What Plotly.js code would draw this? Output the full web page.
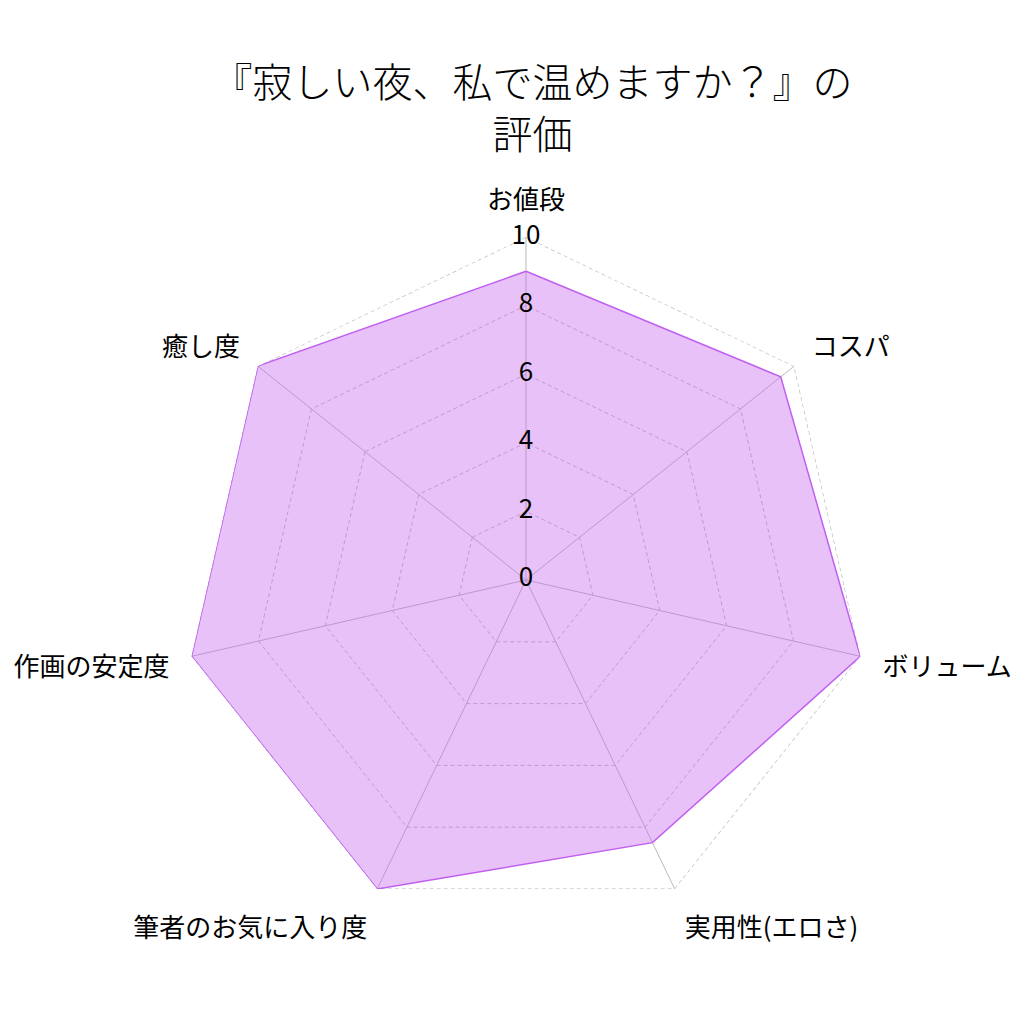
<!DOCTYPE html>
<html>
<head>
<meta charset="utf-8">
<script src="https://cdn.plot.ly/plotly-3.0.1.min.js"></script>
<style>html,body{margin:0;padding:0;background:#fff;}</style>
</head>
<body>
<div id="chart" style="width:1024px;height:1024px;"></div>
<script>
const categories = ["お値段", "コスパ", "ボリューム", "実用性(エロさ)", "筆者のお気に入り度", "作画の安定度", "癒し度"];
const scores = [9, 9.5, 10, 8.5, 10, 10, 10];
const tickValues = [0, 2, 4, 6, 8, 10];
const tickLabels = ["0", "2", "4", "6", "8", "10"];
const rangeMax = 10;
const chartTitle = "『寂しい夜、私で温めますか？』の<br>評価";

const font = "Noto Sans CJK JP, Noto Sans, sans-serif";
const gridDash = "4px,3px";
const gridColor = "#bdbdbd";

const data = [
  {
    type: "scatterpolar",
    subplot: "polar",
    r: categories.map(() => rangeMax).concat([rangeMax]),
    theta: categories.concat([categories[0]]),
    mode: "lines",
    line: {color: "#b4b4b4", width: 1.2, dash: gridDash},
    hoverinfo: "skip",
    showlegend: false
  },
  {
    type: "scatterpolar",
    subplot: "polar",
    r: scores.concat([scores[0]]),
    theta: categories.concat([categories[0]]),
    mode: "lines",
    fill: "toself",
    fillcolor: "rgba(200,100,240,0.4)",
    line: {color: "#c060f0", width: 1.5},
    hoverinfo: "skip",
    showlegend: false
  },
  {
    type: "scatterpolar",
    subplot: "polar2",
    r: tickValues,
    theta: tickValues.map(() => categories[0]),
    mode: "text",
    text: tickLabels,
    textposition: "middle center",
    textfont: {family: font, size: 26, color: "#000"},
    cliponaxis: false,
    hoverinfo: "skip",
    showlegend: false
  }
];

const domain = {x: [0.1787, 0.8486], y: [0.0986, 0.7686]};

const layout = {
  width: 1024,
  height: 1024,
  margin: {l: 0, r: 0, t: 0, b: 0},
  paper_bgcolor: "#fff",
  title: {
    text: chartTitle,
    font: {family: font, size: 40, color: "#000", weight: 300},
    x: 0.52, xanchor: "center",
    y: 0.905, yanchor: "top", yref: "container"
  },
  polar: {
    domain: domain,
    bgcolor: "rgba(0,0,0,0)",
    gridshape: "linear",
    radialaxis: {
      range: [0, rangeMax],
      tickvals: tickValues,
      showticklabels: false,
      ticks: "",
      showline: false,
      gridcolor: gridColor,
      griddash: gridDash,
      gridwidth: 1,
      angle: 90
    },
    angularaxis: {
      direction: "clockwise",
      rotation: 90,
      showline: false,
      gridcolor: "#bababa",
      gridwidth: 1,
      ticks: "outside",
      ticklen: 17,
      tickcolor: "rgba(0,0,0,0)",
      tickfont: {family: font, size: 26, color: "#000"}
    }
  },
  polar2: {
    domain: domain,
    bgcolor: "rgba(0,0,0,0)",
    gridshape: "circular",
    radialaxis: {
      range: [0, rangeMax],
      visible: false
    },
    angularaxis: {
      direction: "clockwise",
      rotation: 90,
      visible: false
    }
  }
};

Plotly.newPlot("chart", data, layout, {displayModeBar: false});
</script>
</body>
</html>
